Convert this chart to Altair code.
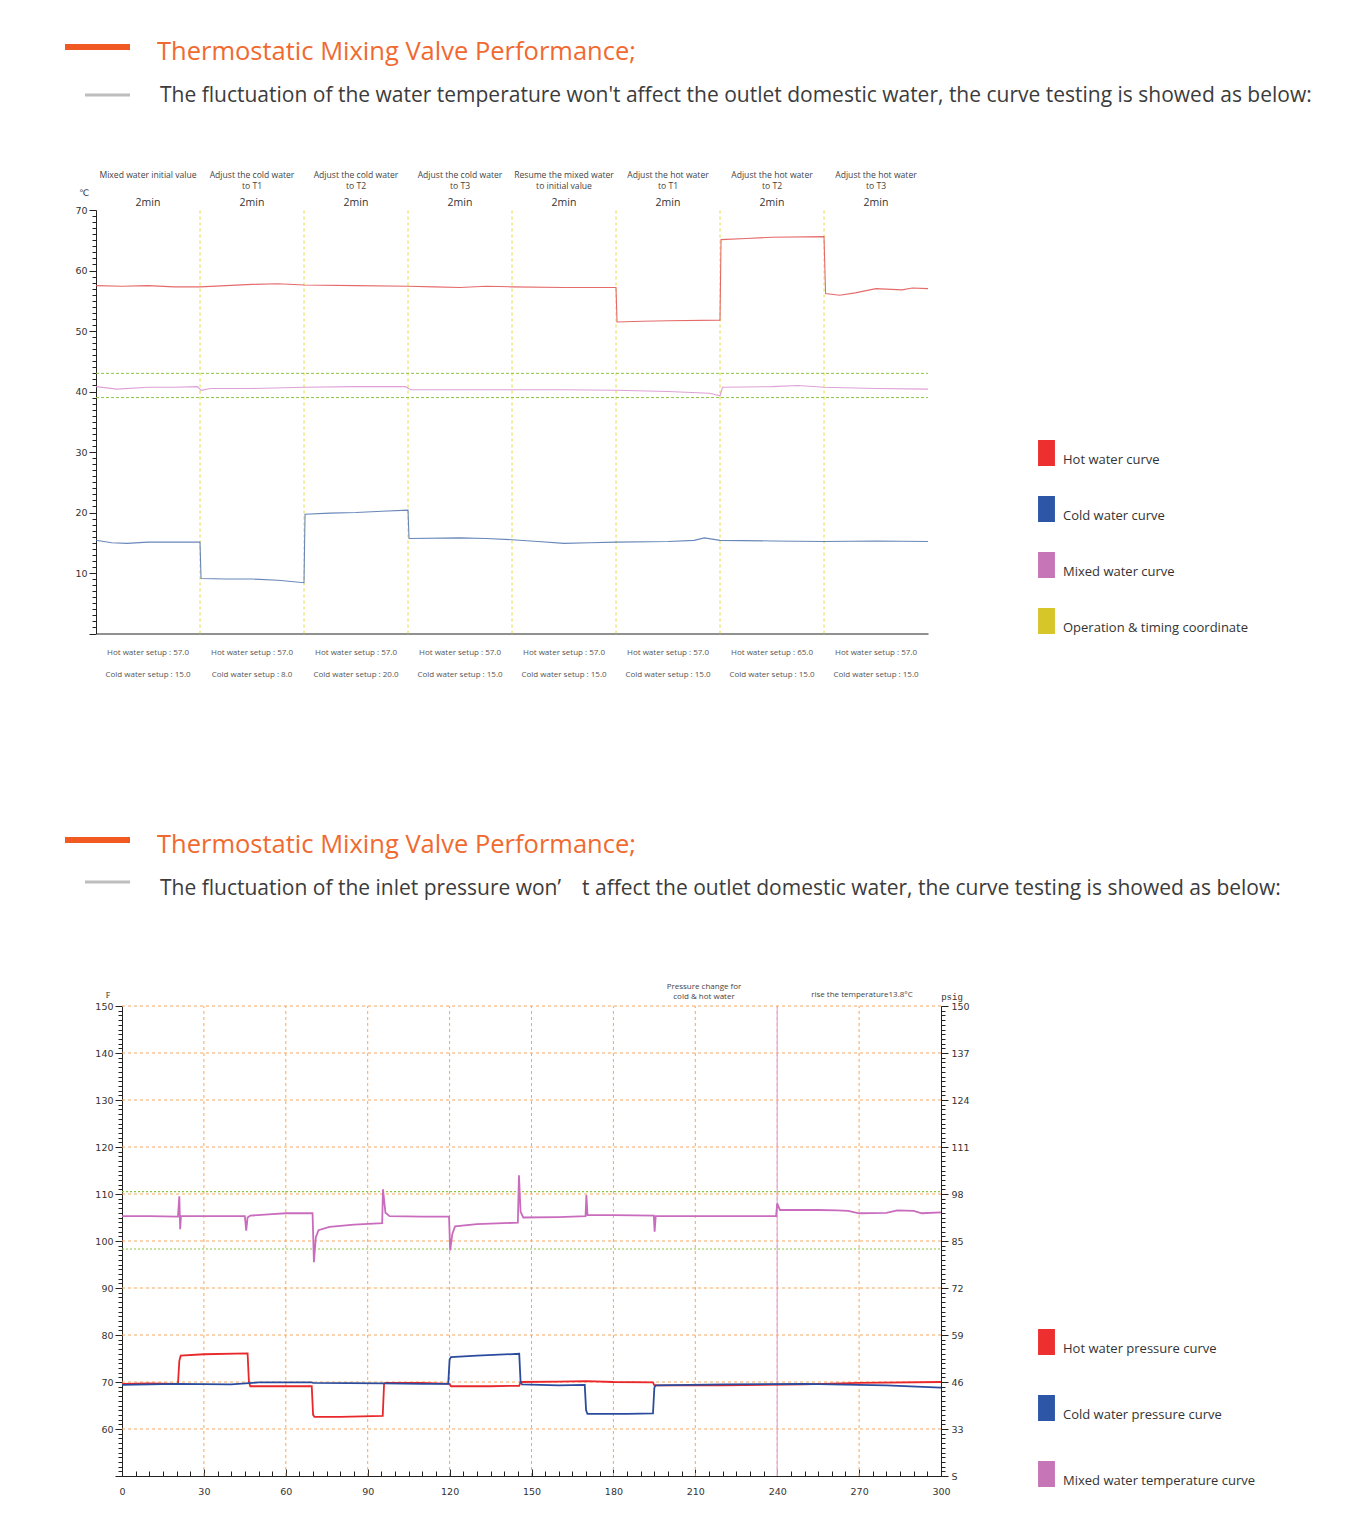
import altair as alt
import pandas as pd

# ---------------- Chart 1 : water temperature (minutes, °C) ----------------
hot1_t = [0, 0.5, 1, 1.5, 2, 2.5, 3, 3.5, 4, 5, 6, 6.5, 7, 7.5, 8, 9, 10, 10.02, 10.5, 11,
          12, 12.02, 12.5, 13, 14, 14.03, 14.3, 14.6, 15, 15.5, 15.7, 16]
hot1_v = [57.5, 57.4, 57.5, 57.3, 57.3, 57.5, 57.7, 57.8, 57.6, 57.5, 57.4, 57.3, 57.2, 57.4, 57.3, 57.2,
          57.2, 51.5, 51.6, 51.7, 51.8, 65.1, 65.3, 65.5, 65.6, 56.2, 55.9, 56.3, 57.0, 56.8, 57.1, 57.0]
cold1_t = [0, 0.3, 0.6, 1, 1.5, 2, 2.02, 2.5, 3, 3.5, 4, 4.02, 4.5, 5, 5.5, 6, 6.02, 7, 7.5, 8,
           8.5, 9, 9.5, 10, 11, 11.5, 11.7, 12, 13, 14, 15, 16]
cold1_v = [15.4, 15.0, 14.9, 15.1, 15.1, 15.1, 9.1, 9.0, 9.0, 8.8, 8.4, 19.7, 19.9, 20.0, 20.2, 20.4,
           15.7, 15.8, 15.7, 15.5, 15.2, 14.9, 15.0, 15.1, 15.2, 15.4, 15.8, 15.4, 15.3, 15.2, 15.3, 15.2]
mix1_t = [0, 0.4, 1, 1.5, 1.95, 2.02, 2.2, 3, 4, 5, 5.95, 6.05, 7, 8, 9, 10, 11, 11.8, 12, 12.05,
          13, 13.5, 14, 15, 16]
mix1_v = [40.8, 40.4, 40.7, 40.7, 40.8, 40.2, 40.5, 40.5, 40.7, 40.8, 40.8, 40.3, 40.3, 40.3, 40.3,
          40.2, 40.0, 39.7, 39.3, 40.7, 40.8, 41.0, 40.7, 40.5, 40.4]
series1 = ["Hot water curve", "Cold water curve", "Mixed water curve", "Operation & timing coordinate"]
seg_bounds1 = [2, 4, 6, 8, 10, 12, 14]
band1 = [43, 39]
seg_center1 = [1, 3, 5, 7, 9, 11, 13, 15]
seg_line1 = ["Mixed water initial value", "Adjust the cold water", "Adjust the cold water",
             "Adjust the cold water", "Resume the mixed water", "Adjust the hot water",
             "Adjust the hot water", "Adjust the hot water"]
seg_line2 = ["", "to T1", "to T2", "to T3", "to initial value", "to T1", "to T2", "to T3"]
seg_dur = ["2min"] * 8
hot_setup = ["57.0", "57.0", "57.0", "57.0", "57.0", "57.0", "65.0", "57.0"]
cold_setup = ["15.0", "8.0", "20.0", "15.0", "15.0", "15.0", "15.0", "15.0"]

# ---------------- Chart 2 : inlet pressure (seconds, °F / psig) ----------------
hot2_t = [0, 10, 20.5, 21, 21.5, 30, 46, 46.5, 47, 60, 69.5, 70, 70.5, 80, 95.5, 96, 96.5, 110, 120,
          120.5, 135, 145.5, 146, 160, 170, 180, 194.5, 195, 220, 250, 270, 300]
hot2_v = [69.6, 69.7, 69.6, 74.5, 75.6, 75.9, 76.1, 70.0, 69.1, 69.1, 69.1, 63.0, 62.6, 62.6, 62.8,
          69.6, 69.8, 69.8, 69.6, 69.1, 69.1, 69.2, 70.0, 70.1, 70.2, 70.0, 69.9, 69.3, 69.3, 69.5,
          69.8, 70.0]
cold2_t = [0, 20, 40, 50, 69.5, 70, 96, 110, 119.5, 120, 120.5, 130, 145.5, 146, 146.5, 160, 169.5,
           170, 170.5, 185, 194.5, 195, 195.5, 220, 250, 280, 300]
cold2_v = [69.4, 69.6, 69.5, 69.9, 69.9, 69.8, 69.7, 69.6, 69.6, 74.8, 75.3, 75.6, 76.0, 70.0, 69.5,
           69.3, 69.4, 64.0, 63.2, 63.2, 63.3, 68.8, 69.3, 69.5, 69.6, 69.3, 68.8]
mix2_t = [0, 10, 20.5, 21, 21.3, 21.6, 30, 45, 45.5, 46, 47, 55, 60, 69.8, 70.3, 71, 72, 76, 85,
          95.3, 95.6, 96.5, 98, 110, 119.8, 120.2, 121, 122, 130, 145, 145.4, 146, 147, 160, 169.8,
          170.1, 170.5, 180, 194.8, 195.1, 195.5, 210, 239.6, 240, 241, 255, 262, 266, 270, 280,
          284, 290, 293, 300]
mix2_v = [105.3, 105.3, 105.2, 109.5, 102.5, 105.3, 105.3, 105.3, 102.2, 105.0, 105.4, 105.7, 105.9,
          105.9, 95.5, 100.8, 102.3, 103.0, 103.5, 103.8, 111.0, 106.0, 105.3, 105.2, 105.2, 98.0,
          101.5, 103.1, 103.6, 103.9, 114.0, 106.2, 105.0, 105.1, 105.3, 109.8, 105.5, 105.5, 105.4,
          102.0, 105.3, 105.3, 105.3, 108.0, 106.6, 106.6, 106.5, 106.4, 105.9, 106.0, 106.5, 106.4,
          105.9, 106.1]
series2 = ["Hot water pressure curve", "Cold water pressure curve", "Mixed water temperature curve"]
grid2_y = [60, 70, 80, 90, 100, 110, 120, 130, 140, 150]
grid2_x = [30, 60, 90, 120, 150, 180, 210, 240, 270]
band2 = [110.5, 98.3]
marker2 = [240]
x2_labels = [0, 30, 60, 90, 120, 150, 180, 210, 240, 270, 300]
psig_labels = ["S", "33", "46", "59", "72", "85", "98", "111", "124", "137", "150"]  # at 50..150 °F

for a, b in [(hot1_t, hot1_v), (cold1_t, cold1_v), (mix1_t, mix1_v),
             (hot2_t, hot2_v), (cold2_t, cold2_v), (mix2_t, mix2_v)]:
    assert len(a) == len(b)

# ---------------- layout (plot coordinates, page minus 8px margin) ----------------
W, H = 1335, 1510
X1 = alt.Scale(domain=[0, 16], range=[88, 920], nice=False, zero=False)
Y1 = alt.Scale(domain=[0, 70], range=[625.5, 202], nice=False, zero=False)
X2 = alt.Scale(domain=[0, 300], range=[114, 933], nice=False, zero=False)
Y2 = alt.Scale(domain=[50, 150], range=[1468, 998], nice=False, zero=False)

AX = dict(domainColor="#222", tickColor="#222", labelColor="#333", labelFont="DejaVu Sans",
          labelFontSize=9.5, grid=False, title=None, labelOverlap=False, tickWidth=1, domainWidth=1,
          labelFlush=False)

ORANGE = "#f06a30"
GRID_OR = "#f5a760"
GREEN = "#8cc63f"

one = pd.DataFrame({"k": [0]})


def text_at(txt, x, y, size, color, font="Open Sans", align="left", baseline="middle"):
    return alt.Chart(one).mark_text(text=txt, align=align, baseline=baseline, fontSize=size,
                                    color=color, font=font).encode(
        x=alt.value(x - 8), y=alt.value(y - 8))


def bar_at(x1, x2, y, width, color):
    return alt.Chart(one).mark_rule(color=color, strokeWidth=width).encode(
        x=alt.value(x1 - 8), x2=alt.value(x2 - 8), y=alt.value(y - 8))


def sym_legend(x, y, row_pad):
    return alt.Legend(orient="none", legendX=x - 8, legendY=y - 8, title=None, padding=0,
                      symbolType="M-0.65,-1.5L0.65,-1.5L0.65,0.5L-0.65,0.5Z", symbolSize=676,
                      symbolStrokeWidth=0, symbolOpacity=1, labelFont="Open Sans", labelFontSize=13,
                      labelColor="#333", labelOffset=3.5, rowPadding=row_pad, direction="vertical",
                      labelLimit=0)


# ---------- Chart 1 layers ----------
df1 = pd.concat([
    pd.DataFrame({"series": series1[0], "t": hot1_t, "v": hot1_v}),
    pd.DataFrame({"series": series1[1], "t": cold1_t, "v": cold1_v}),
    pd.DataFrame({"series": series1[2], "t": mix1_t, "v": mix1_v}),
])
lines1 = alt.Chart(df1).mark_line(strokeWidth=1.1, opacity=0.85).encode(
    x=alt.X("t:Q", scale=X1, axis=alt.Axis(orient="bottom", offset=-(H - 625.5), labels=False,
                                            ticks=False, **AX)),
    y=alt.Y("v:Q", scale=Y1, axis=alt.Axis(
        orient="left", offset=-88, values=list(range(0, 71)),
        labelExpr="datum.value % 10 === 0 && datum.value > 0 ? datum.label : ''",
        tickSize={"condition": {"test": "datum.value % 10 === 0", "value": 7}, "value": 4},
        labelPadding=2, **AX)),
    color=alt.Color("series:N", scale=alt.Scale(domain=series1[:3],
                                                range=["#e05050", "#4f72ad", "#d88fd0"]), legend=None),
    detail="series:N",
)
legend1 = alt.Chart(pd.DataFrame({"series": series1})).mark_point(filled=True, opacity=0).encode(
    color=alt.Color("series:N", scale=alt.Scale(domain=series1,
                                                range=["#ee2f30", "#2d56a6", "#c676b7", "#d6c62a"]),
                    legend=sym_legend(1033.5, 446.5, 29)))
vrules1 = alt.Chart(pd.DataFrame({"t": seg_bounds1, "lo": 0, "hi": 70})).mark_rule(
    color="#e6dc3c", strokeDash=[3, 3], strokeWidth=1).encode(
    x=alt.X("t:Q", scale=X1, axis=None), y=alt.Y("lo:Q", scale=Y1, axis=None), y2="hi:Q")
hrules1 = alt.Chart(pd.DataFrame({"v": band1, "a": 0, "b": 16})).mark_rule(
    color=GREEN, strokeDash=[3, 2], strokeWidth=1).encode(
    y=alt.Y("v:Q", scale=Y1, axis=None), x=alt.X("a:Q", scale=X1, axis=None), x2="b:Q")
segdf = pd.DataFrame({"t": seg_center1, "l1": seg_line1, "l2": seg_line2, "d": seg_dur,
                      "hs": ["Hot water setup : " + s for s in hot_setup],
                      "cs": ["Cold water setup : " + s for s in cold_setup]})


def seg_text(field, y, size, color="#444"):
    return alt.Chart(segdf).mark_text(fontSize=size, color=color, font="Open Sans",
                                      baseline="middle", align="center").encode(
        x=alt.X("t:Q", scale=X1, axis=None), y=alt.value(y - 8), text=f"{field}:N")


seg_texts = [seg_text("l1", 175, 8.6), seg_text("l2", 186, 8.6), seg_text("d", 203, 10.5, "#333"),
             seg_text("hs", 653, 8, "#555"), seg_text("cs", 675, 8, "#555")]

# ---------- Chart 2 layers ----------
hgrid2 = alt.Chart(pd.DataFrame({"v": grid2_y, "a": 0, "b": 300})).mark_rule(
    color=GRID_OR, strokeDash=[3, 3], strokeWidth=1).encode(
    y=alt.Y("v:Q", scale=Y2, axis=alt.Axis(
        orient="right", offset=-(W - 933), values=list(range(50, 151)),
        labelExpr="datum.value % 10 === 0 ? " + str(psig_labels) + "[(datum.value - 50) / 10] : ''",
        tickSize={"condition": {"test": "datum.value % 10 === 0", "value": 7}, "value": 4},
        labelPadding=3, **AX)),
    x=alt.X("a:Q", scale=X2, axis=None), x2="b:Q")
vgrid2 = alt.Chart(pd.DataFrame({"t": grid2_x, "lo": 50, "hi": 150})).mark_rule(
    color=GRID_OR, strokeDash=[3, 3], strokeWidth=1).encode(
    x=alt.X("t:Q", scale=X2, axis=alt.Axis(
        orient="top", offset=-1468, values=list(range(0, 301, 5)), labels=False, domain=False,
        tickSize={"condition": {"test": "datum.value % 30 === 0", "value": 7}, "value": 5}, **AX)),
    y=alt.Y("lo:Q", scale=Y2, axis=None), y2="hi:Q")
green2 = alt.Chart(pd.DataFrame({"v": band2, "a": 0, "b": 300})).mark_rule(
    color=GREEN, strokeDash=[2, 2], strokeWidth=1.2).encode(
    y=alt.Y("v:Q", scale=Y2, axis=None), x=alt.X("a:Q", scale=X2, axis=None), x2="b:Q")
marker = alt.Chart(pd.DataFrame({"t": marker2, "lo": 50, "hi": 150})).mark_rule(
    color="#e3a6e3", strokeWidth=1.2).encode(
    x=alt.X("t:Q", scale=X2, axis=None), y=alt.Y("lo:Q", scale=Y2, axis=None), y2="hi:Q")
df2 = pd.concat([
    pd.DataFrame({"series": series2[0], "t": hot2_t, "v": hot2_v}),
    pd.DataFrame({"series": series2[1], "t": cold2_t, "v": cold2_v}),
    pd.DataFrame({"series": series2[2], "t": mix2_t, "v": mix2_v}),
])
lines2 = alt.Chart(df2).mark_line(strokeWidth=1.8).encode(
    x=alt.X("t:Q", scale=X2, axis=alt.Axis(orient="bottom", offset=-(H - 1468), values=x2_labels,
                                            ticks=False, labelPadding=10, **AX)),
    y=alt.Y("v:Q", scale=Y2, axis=alt.Axis(
        orient="left", offset=-114, values=list(range(50, 151)),
        labelExpr="datum.value % 10 === 0 && datum.value > 50 ? datum.label : ''",
        tickSize={"condition": {"test": "datum.value % 10 === 0", "value": 7}, "value": 4},
        labelPadding=2, **AX)),
    color=alt.Color("series:N", scale=alt.Scale(domain=series2,
                                                range=["#e8282b", "#2b4c9e", "#c96cbd"]), legend=None),
    detail="series:N",
)
legend2 = alt.Chart(pd.DataFrame({"series": series2})).mark_point(filled=True, opacity=0).encode(
    color=alt.Color("series:N", scale=alt.Scale(domain=series2,
                                                range=["#ee2f30", "#2d56a6", "#c676b7"]),
                    legend=sym_legend(1033.5, 1335.5, 39)))

# ---------- headers and free annotations ----------
deco = [
    bar_at(65, 130, 47, 6, "#f05a22"),
    text_at("Thermostatic Mixing Valve Performance;", 157, 52, 25.5, ORANGE),
    bar_at(85, 130, 95, 3, "#bdbdbd"),
    text_at("The fluctuation of the water temperature won't affect the outlet domestic water, "
            "the curve testing is showed as below:", 160, 96, 21, "#3c3c3c"),
    bar_at(65, 130, 840, 6, "#f05a22"),
    text_at("Thermostatic Mixing Valve Performance;", 157, 845, 25.5, ORANGE),
    bar_at(85, 130, 882, 3, "#bdbdbd"),
    text_at("The fluctuation of the inlet pressure won\u2019\u3000t affect the outlet domestic water, "
            "the curve testing is showed as below:", 160, 889, 21, "#3c3c3c"),
    text_at("\u2103", 84, 193, 9, "#333", font="DejaVu Sans", align="center"),
    text_at("F", 108, 996, 8, "#333", font="Liberation Serif", align="center"),
    text_at("psig", 952, 997, 9, "#333", font="Liberation Mono", align="center"),
    text_at("Pressure change for", 704, 987, 8, "#444", align="center"),
    text_at("cold & hot water", 704, 997, 8, "#444", align="center"),
    text_at("rise the temperature13.8\u00b0C", 862, 995, 8, "#444", align="center"),
]

chart = alt.layer(
    vrules1, hrules1, lines1, legend1, *seg_texts,
    hgrid2, vgrid2, green2, marker, lines2, legend2,
    *deco,
).resolve_scale(x="independent", y="independent", color="independent").properties(
    width=W, height=H, padding=0, autosize=alt.AutoSizeParams(type="none"),
    background="white",
).configure_view(stroke=None)

chart.save("out.html", embed_options={"renderer": "svg", "actions": False})
